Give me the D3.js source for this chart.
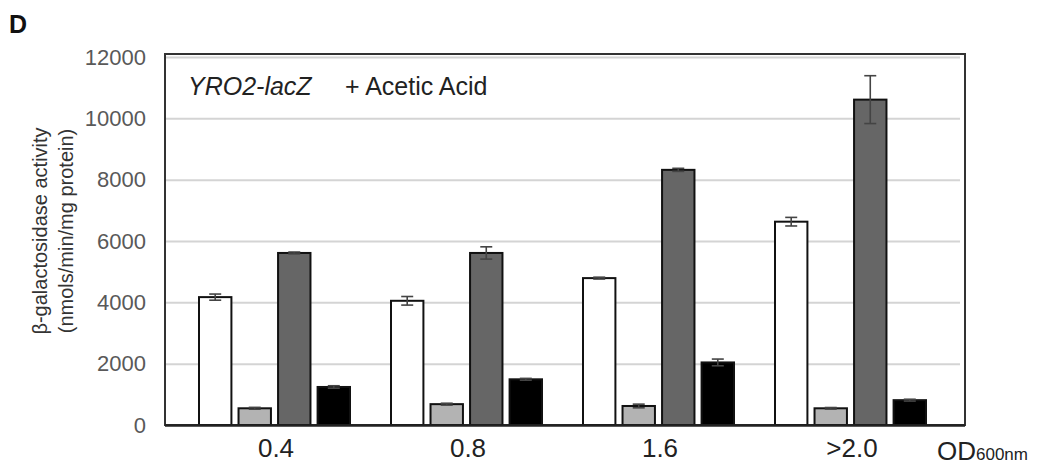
<!DOCTYPE html>
<html>
<head>
<meta charset="UTF-8">
<script src="https://cdn.jsdelivr.net/npm/d3@7"></script>
<style>
  body { margin: 0; background: #fff; }
  text { font-family: "Liberation Sans", Arial, sans-serif; }
</style>
</head>
<body>
<div id="chart"></div>
<script>
// data
var categories = ["0.4", "0.8", "1.6", ">2.0"];
var series = ["s1", "s2", "s3", "s4"];
var colors = ["#ffffff", "#b3b3b3", "#666666", "#000000"];
var means = [
  [4170, 545, 5610, 1240],
  [4050, 680, 5610, 1490],
  [4790, 620, 8320, 2040],
  [6630, 545, 10610, 810]
];
var errs = [
  [100, 30, 30, 40],
  [140, 30, 200, 30],
  [30, 60, 50, 110],
  [140, 25, 780, 30]
];
var yTicks = [0, 2000, 4000, 6000, 8000, 10000, 12000];

var W = 1039, H = 465;
var pLeft = 165, pRight = 965, pTop = 54, pBottom = 425;

var svg = d3.select("#chart").append("svg")
  .attr("width", W).attr("height", H);

var y = d3.scaleLinear().domain([0, 12000]).range([pBottom, 57]);
var x0 = d3.scaleBand().domain(categories).range([180, 948]);
var x1 = d3.scaleBand().domain(series).range([19, 170]).paddingInner(0.18);

// grid lines
var grid = svg.append("g")
  .attr("transform", "translate(" + pLeft + ",0)")
  .call(d3.axisLeft(y).tickValues(yTicks.slice(1)).tickSize(-(pRight - pLeft - 5)).tickFormat(""));
grid.select(".domain").remove();
grid.selectAll("line").attr("stroke", "#d4d4d4").attr("stroke-width", 2);

// frame
svg.append("rect")
  .attr("x", pLeft).attr("y", pTop)
  .attr("width", pRight - pLeft).attr("height", pBottom - pTop)
  .attr("fill", "none").attr("stroke", "#333").attr("stroke-width", 2);

// bars
var groups = svg.selectAll(".grp")
  .data(means)
  .enter().append("g")
  .attr("transform", function(d, i) { return "translate(" + x0(categories[i]) + ",0)"; });

groups.selectAll("rect")
  .data(function(d) { return d; })
  .enter().append("rect")
  .attr("x", function(d, j) { return x1(series[j]); })
  .attr("y", function(d) { return y(d); })
  .attr("width", x1.bandwidth())
  .attr("height", function(d) { return pBottom - y(d); })
  .attr("fill", function(d, j) { return colors[j]; })
  .attr("stroke", "#111")
  .attr("stroke-width", 2);

// error bars
groups.each(function(d, i) {
  var g = d3.select(this);
  d.forEach(function(v, j) {
    var cx = x1(series[j]) + x1.bandwidth() / 2;
    var e = errs[i][j];
    var eb = g.append("g").attr("stroke", "#444").attr("stroke-width", 1.6);
    eb.append("line").attr("x1", cx).attr("x2", cx).attr("y1", y(v + e)).attr("y2", y(v - e));
    eb.append("line").attr("x1", cx - 6).attr("x2", cx + 6).attr("y1", y(v + e)).attr("y2", y(v + e));
    eb.append("line").attr("x1", cx - 6).attr("x2", cx + 6).attr("y1", y(v - e)).attr("y2", y(v - e));
  });
});

// bottom axis line
svg.append("line")
  .attr("x1", pLeft).attr("x2", pRight)
  .attr("y1", pBottom + 0.5).attr("y2", pBottom + 0.5)
  .attr("stroke", "#222").attr("stroke-width", 2.5);

// y axis
var yAxis = svg.append("g")
  .attr("transform", "translate(" + pLeft + ",0)")
  .call(d3.axisLeft(y).tickValues(yTicks).tickSize(0).tickPadding(19).tickFormat(d3.format("d")));
yAxis.select(".domain").remove();
yAxis.selectAll("text")
  .attr("fill", "#595959").style("font-size", "22px")
  .style("font-family", "'Liberation Sans', Arial, sans-serif");

// x axis
var xAxis = svg.append("g")
  .attr("transform", "translate(0," + pBottom + ")")
  .call(d3.axisBottom(x0).tickSize(0).tickPadding(14));
xAxis.select(".domain").remove();
xAxis.selectAll("text")
  .attr("fill", "#222").style("font-size", "26px")
  .style("font-family", "'Liberation Sans', Arial, sans-serif");

// OD label
var od = svg.append("text").attr("x", 937).attr("y", 460)
  .attr("fill", "#222").style("font-size", "26px");
od.append("tspan").text("OD");
od.append("tspan").text("600nm").style("font-size", "17px");

// y title
var yt = svg.append("text")
  .attr("transform", "translate(47,231) rotate(-90)")
  .attr("text-anchor", "middle")
  .attr("fill", "#333").style("font-size", "20px");
yt.append("tspan").attr("x", 0).attr("y", 0).text("β-galactosidase activity");
yt.append("tspan").attr("x", 0).attr("y", 26).text("(nmols/min/mg protein)");

// panel letter
svg.append("text").attr("x", 9).attr("y", 33)
  .attr("fill", "#111").style("font-size", "25px").style("font-weight", "bold").text("D");

// inner title
var t = svg.append("text").attr("x", 188).attr("y", 95)
  .attr("fill", "#222").style("font-size", "25px");
t.append("tspan").style("font-style", "italic").text("YRO2-lacZ");
t.append("tspan").attr("x", 345).text("+ Acetic Acid");
</script>
</body>
</html>
